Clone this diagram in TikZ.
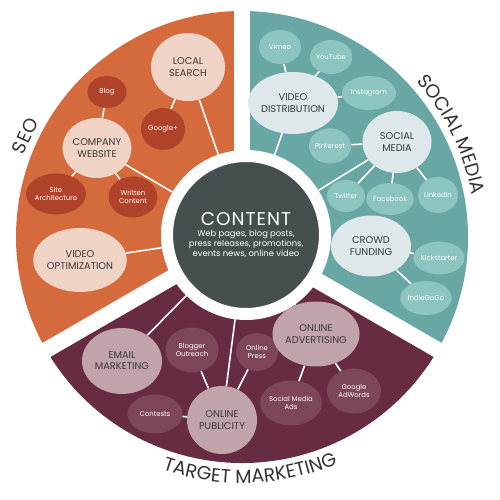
\documentclass[tikz,border=0pt]{standalone}
\usepackage{fontspec}
\setmainfont{Poppins}
\usetikzlibrary{shapes.geometric,decorations.text}
\definecolor{seoC}{HTML}{D56B3D}
\definecolor{seoDark}{HTML}{B0432A}
\definecolor{seoLight}{HTML}{EFD3C5}
\definecolor{tealC}{HTML}{69A7A4}
\definecolor{tealSmall}{HTML}{8CC4C0}
\definecolor{tealLight}{HTML}{DEE7E9}
\definecolor{marC}{HTML}{682C42}
\definecolor{marSmall}{HTML}{7D4659}
\definecolor{marLight}{HTML}{C1A4AA}
\definecolor{contentC}{HTML}{454F4F}
\definecolor{txtDark}{HTML}{3A3A3A}
\definecolor{titleC}{HTML}{333333}
\pgfdeclarelayer{bg}
\pgfdeclarelayer{lines}
\pgfsetlayers{bg,lines,main}
\tikzset{
  bub/.style={ellipse, inner sep=0pt, align=center},
  big/.style={bub, font=\fontsize{9.8}{11.2}\selectfont, text=txtDark},
  sml/.style={bub, font=\fontsize{6.9}{8}\selectfont},
  seoS/.style={sml, fill=seoDark, text=white},
  tealS/.style={sml, fill=tealSmall, text=white},
  marS/.style={sml, fill=marSmall, text=white},
  link/.style={white, line width=1.6pt},
  gap/.style={white, line width=16pt},
  titletext/.style={decorate, decoration={text along path, text align=center,
      text={|\fontsize{19}{19}\selectfont\color{titleC}|#1}}}
}
\begin{document}
\begin{tikzpicture}[x=1pt,y=1pt]
\useasboundingbox (0,0) rectangle (500,500);
\coordinate (C) at (242,263);

% ---------- SEO ----------
\node[big, fill=seoLight, minimum width=74, minimum height=68] (ls) at (188,433) {LOCAL\\SEARCH};
\node[seoS, minimum width=39, minimum height=32] (blog) at (107,408) {Blog};
\node[seoS, minimum width=44, minimum height=42] (gp) at (163,371) {Google+};
\node[big, fill=seoLight, minimum width=66, minimum height=60] (cw) at (97,352) {COMPANY\\WEBSITE};
\node[seoS, minimum width=54, minimum height=41] (site) at (56,306) {Site\\Architecture};
\node[seoS, minimum width=49, minimum height=41] (wc) at (133,303) {Written\\Content};
\node[big, fill=seoLight, minimum width=82, minimum height=64] (vo) at (80,240) {VIDEO\\OPTIMIZATION};

% ---------- SOCIAL MEDIA ----------
\node[tealS, minimum width=42, minimum height=34] (vimeo) at (280,453) {Vimeo};
\node[tealS, minimum width=40, minimum height=34] (yt) at (331,443) {YouTube};
\node[big, fill=tealLight, minimum width=75, minimum height=62] (vd) at (293,397) {VIDEO\\DISTRIBUTION};
\node[tealS, minimum width=54, minimum height=34] (insta) at (369,407) {Instagram};
\node[big, fill=tealLight, minimum width=69, minimum height=62] (sm) at (397,358) {SOCIAL\\MEDIA};
\node[tealS, minimum width=42, minimum height=35] (pin) at (330,354) {Pinterest};
\node[tealS, minimum width=38, minimum height=32] (tw) at (346,304) {Twitter};
\node[tealS, minimum width=43, minimum height=32] (fb) at (390,301) {Facebook};
\node[tealS, minimum width=40, minimum height=36] (li) at (438,305) {LinkedIn};
\node[big, fill=tealLight, minimum width=80, minimum height=61] (cf) at (371,254) {CROWD\\FUNDING};
\node[tealS, minimum width=48, minimum height=33] (ks) at (439,242) {Kickstarter};
\node[tealS, minimum width=47, minimum height=34] (igg) at (426,202) {IndieGoGo};

% ---------- TARGET MARKETING ----------
\node[big, fill=marLight, minimum width=80, minimum height=66] (em) at (122,139) {EMAIL\\MARKETING};
\node[marS, minimum width=53, minimum height=45] (bo) at (192,150) {Blogger\\Outreach};
\node[marS, minimum width=42, minimum height=38] (press) at (257,148) {Online\\Press};
\node[big, fill=marLight, minimum width=73, minimum height=65] (oa) at (316,166) {ONLINE\\ADVERTISING};
\node[marS, minimum width=55, minimum height=39] (cont) at (155,86) {Contests};
\node[big, fill=marLight, minimum width=70, minimum height=68] (op) at (222,80) {ONLINE\\PUBLICITY};
\node[marS, minimum width=57, minimum height=45] (sma) at (291,97) {Social Media\\Ads};
\node[marS, minimum width=54, minimum height=45] (ga) at (354,109) {Google\\AdWords};

% ---------- CONTENT ----------
\node[circle, fill=contentC, draw=white, line width=12pt, minimum size=158, inner sep=0pt,
      text=white, align=center, font=\fontsize{8.4}{10.2}\selectfont] (content) at (246,265)
  {{\fontsize{18.5}{20}\selectfont C\kern1pt O\kern1pt N\kern1pt T\kern1pt E\kern1pt N\kern1pt T}\\[1pt]
   Web pages, blog posts,\\press releases, promotions,\\events news, online video};

% ---------- titles ----------
\path[titletext=SEO] ([shift={(175:233)}]C) arc[start angle=175, end angle=135, radius=233];
\path[titletext=SOCIAL MEDIA] ([shift={(62:234)}]C) arc[start angle=62, end angle=-10, radius=234];
\path[titletext=TARGET MARKETING] ([shift={(228:246)}]C) arc[start angle=228, end angle=316, radius=246];

% ---------- sectors ----------
\begin{pgfonlayer}{bg}
  \fill[seoC] (C) -- ([shift={(90:226)}]C) arc[start angle=90, end angle=210, radius=226] -- cycle;
  \fill[tealC] (C) -- ([shift={(-30:226)}]C) arc[start angle=-30, end angle=90, radius=226] -- cycle;
  \fill[marC] (C) -- ([shift={(210:226)}]C) arc[start angle=210, end angle=330, radius=226] -- cycle;
  \draw[gap] (C) -- ([shift={(90:232)}]C);
  \draw[gap] (C) -- ([shift={(210:232)}]C);
  \draw[gap] (C) -- ([shift={(330:232)}]C);
\end{pgfonlayer}

% ---------- connectors ----------
\begin{pgfonlayer}{lines}
  \draw[link] (ls) -- (content);
  \draw[link] (ls) -- (gp);
  \draw[link] (blog) -- (cw);
  \draw[link] (cw) -- (site);
  \draw[link] (cw) -- (wc);
  \draw[link] (cw) -- (content);
  \draw[link] (vo) -- (content);
  \draw[link] (vimeo) -- (vd);
  \draw[link] (yt) -- (vd);
  \draw[link] (insta) -- (vd);
  \draw[link] (vd) -- (content);
  \draw[link] (pin) -- (sm);
  \draw[link] (sm) -- (tw);
  \draw[link] (sm) -- (fb);
  \draw[link] (sm) -- (li);
  \draw[link] (sm) -- (content);
  \draw[link] (cf) -- (content);
  \draw[link] (cf) -- (ks);
  \draw[link] (cf) -- (igg);
  \draw[link] (em) -- (content);
  \draw[link] (bo) -- (op);
  \draw[link] (cont) -- (op);
  \draw[link] (press) -- (op);
  \draw[link] (op) -- (content);
  \draw[link] (oa) -- (content);
  \draw[link] (oa) -- (sma);
  \draw[link] (oa) -- (ga);
\end{pgfonlayer}
\end{tikzpicture}
\end{document}
